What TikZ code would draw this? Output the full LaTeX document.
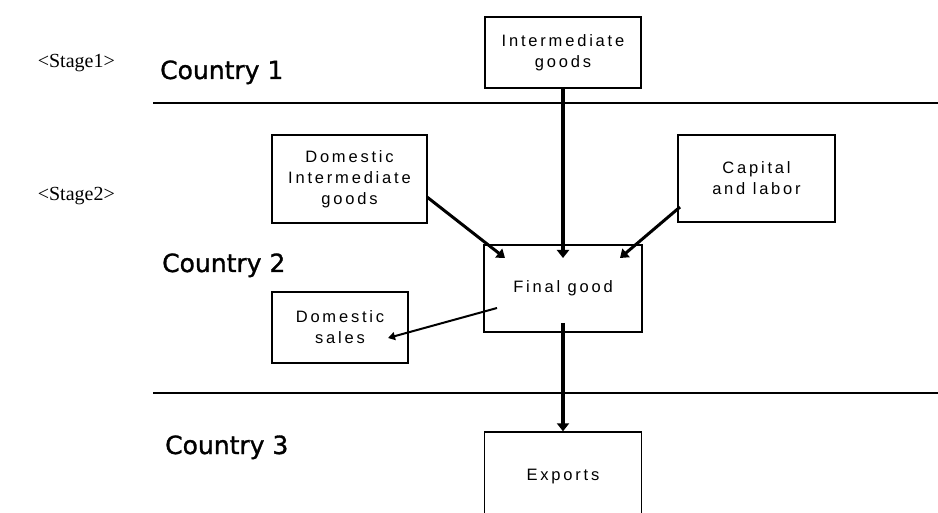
\documentclass[tikz,border=0pt]{standalone}
\usepackage{fontspec}
\setmainfont{Liberation Serif}
\newfontfamily\boxfont[LetterSpace=17]{Liberation Sans}
\newfontfamily\ctryfont[FakeBold=1.2]{DejaVu Sans}
\usetikzlibrary{arrows.meta}
\begin{document}
\begin{tikzpicture}[x=1pt,y=-1pt,
  box/.style={draw, line width=1.4pt, inner sep=0pt, align=center,
    font=\boxfont\fontsize{16.5}{21}\selectfont},
  ctry/.style={anchor=base west, inner sep=0pt, font=\ctryfont\fontsize{25}{30}\selectfont},
  stage/.style={anchor=base east, inner sep=0pt, font=\fontsize{20}{24}\selectfont},
  sepline/.style={line width=1.6pt},
  bigarrow/.style={line width=3.6pt, -{Triangle[width=12pt,length=8pt]}},
  midarrow/.style={line width=3pt, -{Triangle[width=11pt,length=8pt]}},
  thinarrow/.style={line width=2pt, -{Triangle[width=8pt,length=7pt]}}]
\useasboundingbox (0,0) rectangle (938,513);
\clip (0,0) rectangle (938,513);
\fill[white] (0,0) rectangle (938,513);

% separator lines
\coordinate (l1a) at (153,103);
\coordinate (l1b) at (938,103);
\coordinate (l2a) at (153,393);
\coordinate (l2b) at (938,393);
\draw[sepline] (l1a) -- (l1b);
\draw[sepline] (l2a) -- (l2b);

% labels
\node[stage] (st1) at (115,68) {<Stage1>};
\node[stage] (st2) at (115,201) {<Stage2>};
\node[ctry] (c1) at (160,79) {Country 1};
\node[ctry] (c2) at (162,272) {Country 2};
\node[ctry] (c3) at (165,454) {Country 3};

% boxes
\node[box, minimum width=156pt, minimum height=71pt] (ig) at (563,52.5) {Intermediate\\goods};
\node[box, minimum width=155pt, minimum height=88pt] (dig) at (349.5,179) {Domestic\\Intermediate\\goods};
\node[box, minimum width=157pt, minimum height=87pt] (cl) at (756.5,178.5) {Capital\\and labor};
\node[box, minimum width=158pt, minimum height=87pt] (fg) at (563,288.5) {Final good};
\node[box, minimum width=136pt, minimum height=71pt] (ds) at (340,327.5) {Domestic\\sales};
\node[box, minimum width=157pt, minimum height=90pt] (ex) at (563,477) {Exports};

% arrow end points
\coordinate (t1) at (563,258);
\coordinate (s2) at (427,197);
\coordinate (t2) at (505,258);
\coordinate (s3) at (680,207);
\coordinate (t3) at (620,258);
\coordinate (s4) at (563,323);
\coordinate (s5) at (497,308);
\coordinate (t5) at (388,338);

\draw[bigarrow] (ig.south) -- (t1);
\draw[midarrow] (s2) -- (t2);
\draw[midarrow] (s3) -- (t3);
\draw[bigarrow] (s4) -- (ex.north);
\draw[thinarrow] (s5) -- (t5);
\end{tikzpicture}
\end{document}
